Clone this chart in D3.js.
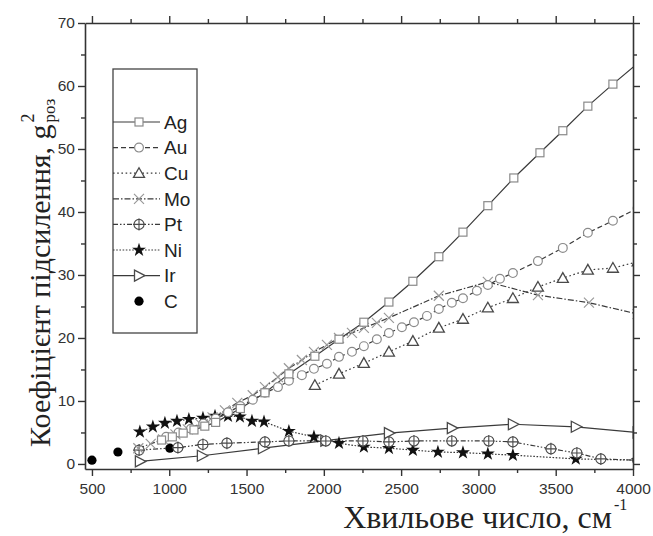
<!DOCTYPE html>
<html lang="uk">
<head>
<meta charset="UTF-8">
<title>Коефіцієнт підсилення</title>
<script src="https://d3js.org/d3.v7.min.js"></script>
<style>
  body { margin: 0; background: #fff; }
  svg { display: block; }
</style>
</head>
<body>
<div id="chart"></div>
<script>
// data: [wavenumber, gain]
const ag = [[950,3.8],[1020,4.3],[1090,4.9],[1160,5.4],[1230,6.0],[1300,6.6],[1460,8.8],[1619,11.3],[1774,14.3],[1942,17.1],[2098,19.8],[2259,22.5],[2421,25.7],[2576,29.0],[2744,32.9],[2900,36.8],[3061,41.0],[3229,45.4],[3398,49.4],[3546,52.9],[3708,56.8],[3870,60.3],[4030,63.6]];
const au = [[980,4.3],[1060,5.0],[1140,5.6],[1220,6.4],[1300,7.2],[1380,8.2],[1460,9.2],[1540,10.2],[1619,11.3],[1703,12.2],[1774,13.2],[1858,14.1],[1936,15.1],[2020,15.9],[2098,17.0],[2182,17.8],[2259,18.7],[2343,19.8],[2421,20.8],[2505,21.7],[2583,22.5],[2667,23.5],[2744,24.6],[2828,25.6],[2900,26.3],[2990,27.5],[3061,28.4],[3139,29.4],[3223,30.3],[3385,32.2],[3546,34.3],[3708,36.7],[3870,38.6],[4030,40.6]];
const cu = [[1942,12.5],[2098,14.3],[2259,16.0],[2421,17.8],[2576,19.5],[2744,21.6],[2900,23.0],[3061,24.8],[3223,26.3],[3385,28.1],[3546,29.5],[3708,30.8],[3870,31.1],[4030,32.1]];
const mo = [[800,2.5],[880,3.2],[960,3.9],[1040,4.7],[1120,5.5],[1200,6.4],[1280,7.4],[1360,8.5],[1440,9.7],[1540,10.9],[1619,12.2],[1703,13.8],[1774,15.2],[1858,16.5],[1936,17.8],[2020,18.9],[2098,20.0],[2182,20.8],[2259,21.6],[2343,22.4],[2421,23.2],[2744,26.7],[3061,28.9],[3385,26.8],[3715,25.6],[4030,23.8]];
const pt = [[805,2.2],[1056,2.6],[1218,3.1],[1373,3.3],[1619,3.5],[1774,3.65],[2013,3.65],[2253,3.65],[2421,3.5],[2583,3.65],[2828,3.65],[3067,3.65],[3223,3.5],[3469,2.4],[3637,1.75],[3792,0.8],[4030,0.6]];
const ni = [[810,5.1],[894,5.9],[972,6.5],[1050,6.8],[1127,7.1],[1218,7.3],[1296,7.6],[1380,7.6],[1457,7.5],[1535,6.8],[1613,6.7],[1774,5.2],[1936,4.3],[2098,3.3],[2259,2.7],[2421,2.5],[2576,2.2],[2738,1.9],[2900,1.8],[3061,1.6],[3223,1.4],[3630,0.8],[4030,0.6]];
const ir = [[810,0.4],[1211,1.3],[1606,2.5],[2010,3.7],[2421,4.9],[2828,5.7],[3223,6.3],[3630,5.9],[4030,5.0]];
const cc = [[500,0.6],[668,1.9],[1004,2.5]];

const series = [
  { name: "Ag", data: ag, dash: null,              marker: "square" },
  { name: "Au", data: au, dash: "5,3",             marker: "circle" },
  { name: "Cu", data: cu, dash: "1.6,2.6",         marker: "triangle" },
  { name: "Mo", data: mo, dash: "6,2,1.5,2",       marker: "times" },
  { name: "Pt", data: pt, dash: "5,2,1.5,2,1.5,2", marker: "oplus" },
  { name: "Ni", data: ni, dash: "1.6,1.6",         marker: "star" },
  { name: "Ir", data: ir, dash: null,              marker: "rtri" },
  { name: "C",  data: cc, dash: "none",            marker: "dot" }
];

const width = 653, height = 536;
const svg = d3.select("#chart").append("svg")
  .attr("width", width).attr("height", height)
  .attr("viewBox", [0, 0, width, height]);

const x = d3.scaleLinear().domain([455, 4000]).range([85, 633]);
const y = d3.scaleLinear().domain([-0.8, 70]).range([469, 23]);

svg.append("clipPath").attr("id", "plot")
  .append("rect").attr("x", 85).attr("y", 23).attr("width", 548).attr("height", 446);

// draws one marker centred at 0,0
function marker(g, type) {
  const grey = "#8a8a8a", dark = "#4a4a4a";
  if (type === "square") {
    g.append("rect").attr("x", -4).attr("y", -4).attr("width", 8).attr("height", 8)
      .attr("fill", "#fff").attr("stroke", grey).attr("stroke-width", 1.2);
  } else if (type === "circle") {
    g.append("circle").attr("r", 4.4).attr("fill", "#fff").attr("stroke", grey).attr("stroke-width", 1.2);
  } else if (type === "triangle") {
    g.append("path").attr("d", "M0,-5.5L5.5,4.2L-5.5,4.2Z")
      .attr("fill", "#fff").attr("stroke", dark).attr("stroke-width", 1.3);
  } else if (type === "times") {
    g.append("path").attr("d", "M-5,-5L5,5M-5,5L5,-5")
      .attr("stroke", "#999").attr("stroke-width", 1.2);
  } else if (type === "oplus") {
    g.append("circle").attr("r", 5).attr("fill", "#fff").attr("stroke", dark).attr("stroke-width", 1.1);
    g.append("path").attr("d", "M-6,0H6M0,-6V6").attr("stroke", dark).attr("stroke-width", 1.1);
  } else if (type === "star") {
    g.append("path").attr("d", d3.symbol(d3.symbolStar, 60)()).attr("fill", "#111");
  } else if (type === "rtri") {
    g.append("path").attr("d", "M-4.5,-5.5L6,0L-4.5,5.5Z")
      .attr("fill", "#fff").attr("stroke", dark).attr("stroke-width", 1.3);
  } else if (type === "dot") {
    g.append("circle").attr("r", 4.6).attr("fill", "#000");
  }
}

const plot = svg.append("g").attr("clip-path", "url(#plot)");
const line = d3.line().x(d => x(d[0])).y(d => y(d[1]));

series.forEach(s => {
  if (s.dash !== "none") {
    plot.append("path").datum(s.data)
      .attr("fill", "none").attr("stroke", "#3a3a3a").attr("stroke-width", 1.2)
      .attr("stroke-dasharray", s.dash)
      .attr("d", line);
  }
});
series.slice().reverse().forEach(s => {
  plot.append("g").selectAll("g").data(s.data).join("g")
    .attr("transform", d => `translate(${x(d[0])},${y(d[1])})`)
    .each(function () { marker(d3.select(this), s.marker); });
});

// axes
const axisColor = "#333";
function styleAxis(g) {
  g.select(".domain").attr("stroke", axisColor).attr("stroke-width", 1.6);
  g.selectAll(".tick line").attr("stroke", axisColor).attr("stroke-width", 1.4);
  g.selectAll(".tick text").attr("fill", "#333")
    .attr("font-family", "Liberation Sans, Arial, sans-serif").attr("font-size", 15.5);
}
const xMinor = d3.range(750, 4000, 500);
const yMinor = d3.range(5, 70, 10);
const xMajor = d3.range(500, 4001, 500);
const yMajor = d3.range(0, 71, 10);
const fmt = d3.format("d");

svg.append("g").attr("transform", "translate(0,469)")
  .call(d3.axisBottom(x).tickValues(xMajor).tickFormat(fmt).tickSize(7).tickSizeOuter(0).tickPadding(7))
  .call(styleAxis);
svg.append("g").attr("transform", "translate(0,469)")
  .call(d3.axisBottom(x).tickValues(xMinor).tickSize(4).tickFormat(""))
  .call(g => g.select(".domain").remove()).call(styleAxis);
svg.append("g").attr("transform", "translate(0,23)")
  .call(d3.axisTop(x).tickValues(xMajor).tickSize(7).tickSizeOuter(0).tickFormat(""))
  .call(styleAxis);
svg.append("g").attr("transform", "translate(0,23)")
  .call(d3.axisTop(x).tickValues(xMinor).tickSize(4).tickFormat(""))
  .call(g => g.select(".domain").remove()).call(styleAxis);

svg.append("g").attr("transform", "translate(85,0)")
  .call(d3.axisLeft(y).tickValues(yMajor).tickFormat(fmt).tickSize(7).tickSizeOuter(0).tickPadding(3))
  .call(styleAxis);
svg.append("g").attr("transform", "translate(85,0)")
  .call(d3.axisLeft(y).tickValues(yMinor).tickSize(4).tickFormat(""))
  .call(g => g.select(".domain").remove()).call(styleAxis);
svg.append("g").attr("transform", "translate(633,0)")
  .call(d3.axisRight(y).tickValues(yMajor).tickSize(7).tickSizeOuter(0).tickFormat(""))
  .call(styleAxis);
svg.append("g").attr("transform", "translate(633,0)")
  .call(d3.axisRight(y).tickValues(yMinor).tickSize(4).tickFormat(""))
  .call(g => g.select(".domain").remove()).call(styleAxis);

// legend
const lg = svg.append("g");
lg.append("rect").attr("x", 113).attr("y", 69).attr("width", 84).attr("height", 264)
  .attr("fill", "#fff").attr("stroke", "#444").attr("stroke-width", 1.3);
series.forEach((s, i) => {
  const yy = 122 + i * 25.6;
  if (s.dash !== "none") {
    lg.append("line").attr("x1", 113).attr("x2", 160).attr("y1", yy).attr("y2", yy)
      .attr("stroke", "#3a3a3a").attr("stroke-width", 1.2).attr("stroke-dasharray", s.dash);
  }
  const m = lg.append("g").attr("transform", `translate(139,${yy})`);
  marker(m, s.marker);
  lg.append("text").attr("x", 164).attr("y", yy).attr("dy", "0.36em")
    .attr("font-family", "Liberation Sans, Arial, sans-serif").attr("font-size", 19)
    .attr("fill", "#222").text(s.name);
});

// axis titles
const serif = "Liberation Serif, Times New Roman, serif";
const xt = svg.append("text").attr("y", 528)
  .attr("font-family", serif).attr("font-size", 32).attr("fill", "#222")
  .text("Хвильове число, см");
const xl = xt.node().getComputedTextLength();
xt.attr("x", 612 - xl);
svg.append("text").attr("x", 614).attr("y", 510)
  .attr("font-family", serif).attr("font-size", 16).attr("fill", "#222").text("-1");

const yg = svg.append("g").attr("transform", "translate(50,447) rotate(-90)");
const yt = yg.append("text").attr("x", 0).attr("y", 0)
  .attr("font-family", serif).attr("font-size", 30).attr("fill", "#222")
  .text("Коефіцієнт підсилення, g");
const yl = yt.node().getComputedTextLength();
yg.append("text").attr("x", yl + 2).attr("y", -16)
  .attr("font-family", serif).attr("font-size", 18).attr("fill", "#222").text("2");
yg.append("text").attr("x", yl + 2).attr("y", 5)
  .attr("font-family", serif).attr("font-size", 17).attr("fill", "#222").text("роз");
</script>
</body>
</html>
